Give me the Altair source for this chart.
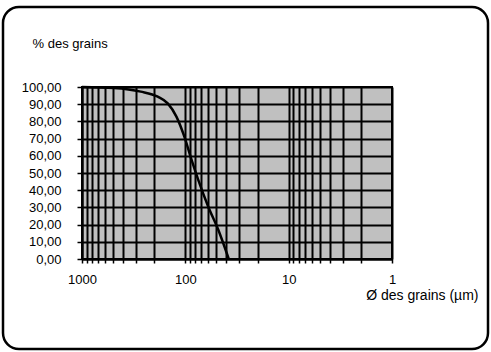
import altair as alt
import pandas as pd

# Cumulative grain-size curve (diameter in µm, cumulative % passing)
diametres = [1000, 490, 270, 185, 148, 122, 102, 87, 75, 60, 48, 38]
pourcentages = [100, 99.4, 97.3, 94.4, 90.5, 82.8, 71, 57.6, 46, 30.4, 17, 0]

# Log-decade grid positions and labelled decades
decades = [1, 10, 100, 1000]
grille_x = [m * d for d in [1, 10, 100] for m in range(1, 10)] + [1000]
graduations_y = list(range(0, 101, 10))

courbe = pd.DataFrame({"diametre": diametres, "pourcentage": pourcentages})

W, H = 310, 172
PAD = {"left": 82, "top": 87, "right": 491 - 82 - W, "bottom": 352 - 87 - H}

label_x = "indexof([1,10,100,1000], datum.value) >= 0 ? toString(datum.value) : ''"

ligne = (
    alt.Chart(courbe)
    .mark_line(color="black", strokeWidth=2.5, interpolate="monotone")
    .encode(
        x=alt.X(
            "diametre:Q",
            scale=alt.Scale(type="log", domain=[1, 1000], reverse=True, nice=False),
            axis=alt.Axis(
                values=grille_x,
                labelExpr=label_x,
                title="Ø des grains (µm)",
                titleAlign="right",
                titleAnchor="start",
                titleX=396,
                titleY=36,
                titleBaseline="middle",
                titleFontSize=14,
                labelPadding=10,
                tickSize=4,
                labelFlush=False,
            ),
        ),
        y=alt.Y(
            "pourcentage:Q",
            scale=alt.Scale(domain=[0, 100], nice=False),
            axis=alt.Axis(
                values=graduations_y,
                labelExpr="replace(format(datum.value, '.2f'), '.', ',')",
                title="% des grains",
                titleAngle=0,
                titleAlign="left",
                titleAnchor="start",
                titleX=-50,
                titleY=-44,
                titleBaseline="middle",
                labelPadding=16,
                tickSize=5,
            ),
        ),
    )
)

# Rounded frame around the whole figure
cadre = (
    alt.Chart(pd.DataFrame({"k": [0]}))
    .mark_rect(fill=None, stroke="black", strokeWidth=2.5, cornerRadius=16)
    .encode(
        x=alt.value(-79),
        x2=alt.value(406),
        y=alt.value(-80),
        y2=alt.value(262),
    )
)

chart = (
    alt.layer(cadre, ligne)
    .properties(
        width=W,
        height=H,
        padding=PAD,
        autosize=alt.AutoSizeParams(type="none"),
        background="white",
    )
    .configure_view(fill="#c0c0c0", stroke="black", strokeWidth=2)
    .configure_axis(
        grid=True,
        gridColor="black",
        gridWidth=2,
        gridOpacity=1,
        domainColor="black",
        domainWidth=2,
        tickColor="black",
        tickWidth=1.5,
        labelFont="Liberation Sans",
        labelFontSize=13,
        labelColor="black",
        titleFont="Liberation Sans",
        titleFontSize=13,
        titleFontWeight="normal",
        titleColor="black",
    )
)

chart.save("out.html", embed_options={"renderer": "svg", "actions": False})
